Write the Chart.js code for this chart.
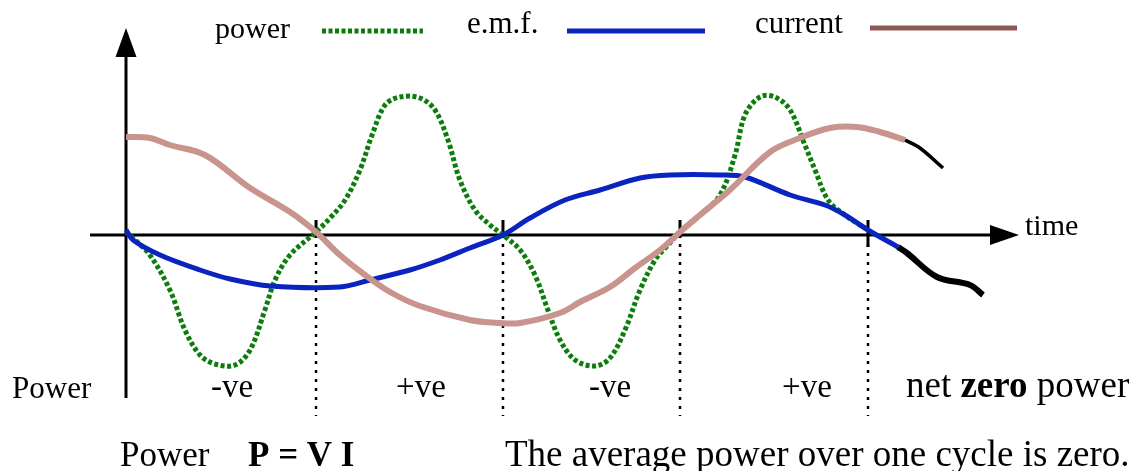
<!DOCTYPE html>
<html>
<head>
<meta charset="utf-8">
<script src="https://cdn.jsdelivr.net/npm/chart.js@4/dist/chart.umd.min.js"></script>
<style>
html,body{margin:0;padding:0;background:#fff;}
#wrap{width:1139px;height:471px;position:relative;}
</style>
</head>
<body>
<div id="wrap"><canvas id="c" width="1139" height="471"></canvas></div>
<script>
// phase angle (degrees) and values (arbitrary units)
const emfT   = [0, 3.4, 16.5, 35.9, 50.5, 69.9, 103.8, 118.4, 137.8, 152.3, 166.9, 182.9, 196.0, 213.0, 230.0, 249.4, 263.9, 288.2, 300.3, 322.2, 339.1, 348.8, 360, 374.6];
const emfV   = [0.10, -0.10, -0.40, -0.70, -0.88, -1.02, -1.04, -0.90, -0.70, -0.50, -0.26, 0, 0.34, 0.70, 0.90, 1.14, 1.20, 1.20, 1.16, 0.80, 0.60, 0.40, 0.10, -0.24];
const emfTailT = [374.6, 378.9, 393.5, 409.5, 415.8];
const emfTailV = [-0.24, -0.36, -0.84, -1.00, -1.20];

const curT   = [0, 11.6, 21.3, 38.3, 60.2, 79.6, 92.2, 103.8, 116.0, 128.1, 142.6, 166.9, 181.5, 191.2, 210.6, 220.3, 234.8, 247.0, 259.1, 268.8, 278.5, 293.0, 312.5, 327.0, 341.6, 354.7, 365.8, 378.0];
const curV   = [1.96, 1.94, 1.80, 1.60, 0.94, 0.46, 0.06, -0.40, -0.80, -1.14, -1.42, -1.70, -1.76, -1.76, -1.56, -1.34, -1.04, -0.66, -0.30, 0.06, 0.40, 0.90, 1.66, 1.94, 2.14, 2.16, 2.06, 1.90];
const curTailT = [378.0, 385.2, 396.4];
const curTailV = [1.90, 1.74, 1.34];

const powT   = [0, 4.4, 11.6, 21.3, 28.6, 35.9, 43.2, 52.9, 60.2, 67.4, 72.3, 79.6, 92.2, 99.0, 106.3, 113.5, 119.4, 125.7, 132.9, 142.6, 149.9, 156.2, 162.0, 169.3, 176.6, 182.9, 191.2, 198.4, 204.7, 210.6, 217.9, 227.6, 234.8, 242.1, 249.4, 256.7, 263.0, 268.8, 278.5, 288.2, 295.5, 300.3, 307.6, 314.9, 322.2, 329.4, 334.3, 340.6, 348.8, 360];
const powV   = [0.06, -0.10, -0.40, -1.10, -1.90, -2.40, -2.58, -2.60, -2.30, -1.50, -0.90, -0.40, 0.06, 0.34, 0.70, 1.30, 2.00, 2.60, 2.76, 2.74, 2.50, 1.90, 1.10, 0.50, 0.20, 0, -0.30, -0.80, -1.50, -2.10, -2.50, -2.62, -2.46, -1.90, -1.10, -0.50, -0.20, 0.06, 0.40, 0.80, 1.60, 2.40, 2.76, 2.76, 2.50, 1.80, 1.30, 0.70, 0.40, 0.10];

const crossings = [92.2, 182.9, 268.8, 360];
const seriesNames = ['power', 'e.m.f.', 'current'];
const signLabels = ['-ve', '+ve', '-ve', '+ve'];

const pts = (t, v) => t.map((x, i) => ({x: x, y: v[i]}));

const SERIF = '"Liberation Serif", "Times New Roman", serif';
const signCenters = [232, 421, 610, 807];

const overlay = {
  id: 'overlay',
  beforeDatasetsDraw(chart) {
    const ctx = chart.ctx, xs = chart.scales.x, ys = chart.scales.y;
    const x0 = xs.getPixelForValue(0), y0 = ys.getPixelForValue(0);
    ctx.save();
    ctx.strokeStyle = '#000'; ctx.fillStyle = '#000';
    ctx.lineWidth = 3;
    // y axis
    ctx.beginPath(); ctx.moveTo(x0, 398); ctx.lineTo(x0, 54); ctx.stroke();
    ctx.beginPath(); ctx.moveTo(x0, 28); ctx.lineTo(x0 - 10.5, 57); ctx.lineTo(x0 + 10.5, 57); ctx.closePath(); ctx.fill();
    // x axis
    ctx.beginPath(); ctx.moveTo(chart.chartArea.left, y0); ctx.lineTo(995, y0); ctx.stroke();
    ctx.beginPath(); ctx.moveTo(1019, y0); ctx.lineTo(990, y0 - 10); ctx.lineTo(990, y0 + 10); ctx.closePath(); ctx.fill();
    // crossing ticks + dotted lines
    crossings.forEach((t, i) => {
      const px = xs.getPixelForValue(t);
      ctx.lineWidth = 3; ctx.setLineDash([]);
      ctx.beginPath(); ctx.moveTo(px, y0 - 15); ctx.lineTo(px, y0 + (i === 3 ? 12 : 3)); ctx.stroke();
      ctx.lineWidth = 2.5; ctx.setLineDash([3, 6]);
      ctx.beginPath(); ctx.moveTo(px, y0 + 9); ctx.lineTo(px, 416); ctx.stroke();
    });
    ctx.restore();
  },
  afterDraw(chart) {
    const ctx = chart.ctx;
    ctx.save();
    ctx.fillStyle = '#000';
    ctx.textBaseline = 'alphabetic';
    // legend
    ctx.font = '30px ' + SERIF;
    ctx.textAlign = 'left';
    ctx.fillText(seriesNames[0], 215, 38);
    ctx.font = '31px ' + SERIF;
    ctx.fillText(seriesNames[1], 467, 33);
    ctx.fillText(seriesNames[2], 755, 33);
    const ds = chart.data.datasets;
    const legendLine = (d, xa, xb, y) => {
      ctx.save();
      ctx.strokeStyle = d.legendColor || d.borderColor; ctx.lineWidth = 5;
      ctx.setLineDash(d.borderDash || []);
      ctx.beginPath(); ctx.moveTo(xa, y); ctx.lineTo(xb, y); ctx.stroke();
      ctx.restore();
    };
    legendLine(ds[0], 322, 423, 31);
    legendLine(ds[1], 567, 705, 31);
    legendLine(ds[2], 870, 1017, 28);
    // time label
    ctx.font = '30px ' + SERIF;
    ctx.fillText('time', 1025, 235);
    // middle row
    ctx.font = '31px ' + SERIF;
    ctx.fillText('Power', 12, 398);
    ctx.textAlign = 'center';
    ctx.font = '33px ' + SERIF;
    signLabels.forEach((s, i) => ctx.fillText(s, signCenters[i], 397));
    ctx.textAlign = 'left';
    ctx.font = '37px ' + SERIF;
    let x = 906;
    ctx.fillText('net ', x, 397); x += ctx.measureText('net ').width;
    ctx.font = 'bold 37px ' + SERIF;
    ctx.fillText('zero', x, 397); x += ctx.measureText('zero').width;
    ctx.font = '37px ' + SERIF;
    ctx.fillText(' power', x, 397);
    // bottom row
    ctx.font = '35px ' + SERIF;
    ctx.fillText('Power', 120, 466);
    ctx.font = 'bold 35px ' + SERIF;
    ctx.fillText('P = V I', 248, 466);
    ctx.font = '37px ' + SERIF;
    ctx.fillText('The average power over one cycle is zero.', 505, 466);
    ctx.restore();
  }
};

new Chart(document.getElementById('c'), {
  type: 'line',
  data: {
    datasets: [
      {label: seriesNames[0], data: pts(powT, powV), borderColor: '#0b7d0b', borderWidth: 5, borderDash: [4, 2.5], tension: 0.35, pointRadius: 0, order: 3},
      {label: seriesNames[1], data: pts(emfT, emfV), borderColor: '#0b24c0', borderWidth: 5, tension: 0.35, pointRadius: 0, order: 2},
      {label: seriesNames[2], data: pts(curT, curV), borderColor: '#c8948d', legendColor: '#8e5858', borderWidth: 6, tension: 0.35, pointRadius: 0, order: 1},
      {label: 'emf tail', data: pts(emfTailT, emfTailV), borderColor: '#000', borderWidth: 6, tension: 0.35, pointRadius: 0, order: 0},
      {label: 'current tail', data: pts(curTailT, curTailV), borderColor: '#000', borderWidth: 3.5, tension: 0.35, pointRadius: 0, order: 0}
    ]
  },
  options: {
    responsive: false,
    animation: false,
    layout: {padding: {left: 90, right: 122, top: 28, bottom: 73}},
    plugins: {legend: {display: false}, tooltip: {enabled: false}},
    scales: {
      x: {type: 'linear', display: false, min: -17.47, max: 432.3},
      y: {type: 'linear', display: false, min: -3.26, max: 4.14}
    }
  },
  plugins: [overlay]
});
</script>
</body>
</html>
